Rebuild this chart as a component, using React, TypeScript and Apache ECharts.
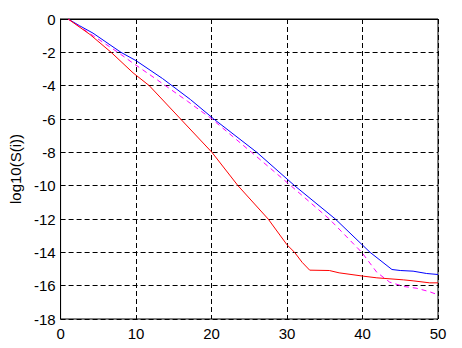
import React, { useEffect, useRef } from "react";
import * as echarts from "echarts";

const blueX = [1, 2.5, 4.3, 8, 10, 13.5, 17.2, 20.3, 26, 31, 36.4, 41, 43.9, 45, 46.7, 48.5, 50];
const blueY = [0, -0.4, -0.85, -2.0, -2.5, -3.57, -4.83, -6, -8, -10, -12, -14, -15.03, -15.09, -15.13, -15.27, -15.33];

const magentaX = [1, 4.3, 7.6, 9.6, 12.8, 16.8, 20.05, 25.3, 30.5, 35.6, 39.9, 41.9, 43.6, 45.5, 47.1, 48.8, 50];
const magentaY = [0, -1.0, -2, -2.65, -3.65, -4.93, -6, -8, -10, -12, -14, -15.2, -15.79, -16.05, -16.15, -16.35, -16.55];

const redX = [1, 3.9, 6.7, 9.6, 11.75, 15.9, 20.05, 23.5, 27.5, 30, 31, 32, 33, 35.6, 36.9, 40.1, 41.9, 45.4, 46.7, 48.9, 50];
const redY = [0, -0.93, -2, -3.23, -4, -6, -8, -10, -12, -13.55, -14, -14.6, -15.07, -15.09, -15.23, -15.43, -15.53, -15.65, -15.71, -15.83, -15.83];

const xMin = 0;
const xMax = 50;
const xStep = 10;
const yMin = -18;
const yMax = 0;
const yStep = 2;
const yLabel = "log10(S(i))";

const pairs = (xs: number[], ys: number[]) => xs.map((x, i) => [x, ys[i]]);

const FONT = "'Liberation Sans', Arial, sans-serif";

export default function App() {
  const ref = useRef<HTMLDivElement>(null);
  useEffect(() => {
    const chart = echarts.init(ref.current!, null, { renderer: "svg" });
    const axisCommon = {
      axisLine: { show: true, lineStyle: { color: "#000", width: 1 } },
      axisTick: { show: false },
      splitLine: { show: true, lineStyle: { color: "#000", width: 1, type: [5, 3] } },
    };
    chart.setOption({
      animation: false,
      backgroundColor: "#fff",
      grid: { left: 57, right: 24, top: 19, bottom: 29, show: true, borderColor: "#000", borderWidth: 1, backgroundColor: "transparent" },
      xAxis: {
        type: "value",
        min: xMin,
        max: xMax,
        interval: xStep,
        ...axisCommon,
        axisLabel: { color: "#000", fontSize: 15, fontFamily: FONT, margin: 7 },
      },
      yAxis: {
        type: "value",
        min: yMin,
        max: yMax,
        interval: yStep,
        ...axisCommon,
        axisLabel: { color: "#000", fontSize: 15, fontFamily: FONT, margin: 5 },
        name: yLabel,
        nameLocation: "middle",
        nameGap: 35,
        nameTextStyle: { color: "#000", fontSize: 15, fontFamily: FONT },
      },
      series: [
        {
          type: "line",
          data: pairs(blueX, blueY),
          showSymbol: false,
          symbol: "none",
          lineStyle: { color: "#0000ff", width: 1 },
          itemStyle: { color: "#0000ff" },
          z: 3,
        },
        {
          type: "line",
          data: pairs(magentaX, magentaY),
          showSymbol: false,
          symbol: "none",
          lineStyle: { color: "#ff00ff", width: 1, type: [5, 4] },
          itemStyle: { color: "#ff00ff" },
          z: 4,
        },
        {
          type: "line",
          data: pairs(redX, redY),
          showSymbol: false,
          symbol: "none",
          lineStyle: { color: "#ff0000", width: 1 },
          itemStyle: { color: "#ff0000" },
          z: 5,
        },
      ],
    });
    return () => chart.dispose();
  }, []);
  return (
    <div
      ref={ref}
      style={{ position: "fixed", left: 0, top: 0, width: 462, height: 348, background: "#fff" }}
    />
  );
}
